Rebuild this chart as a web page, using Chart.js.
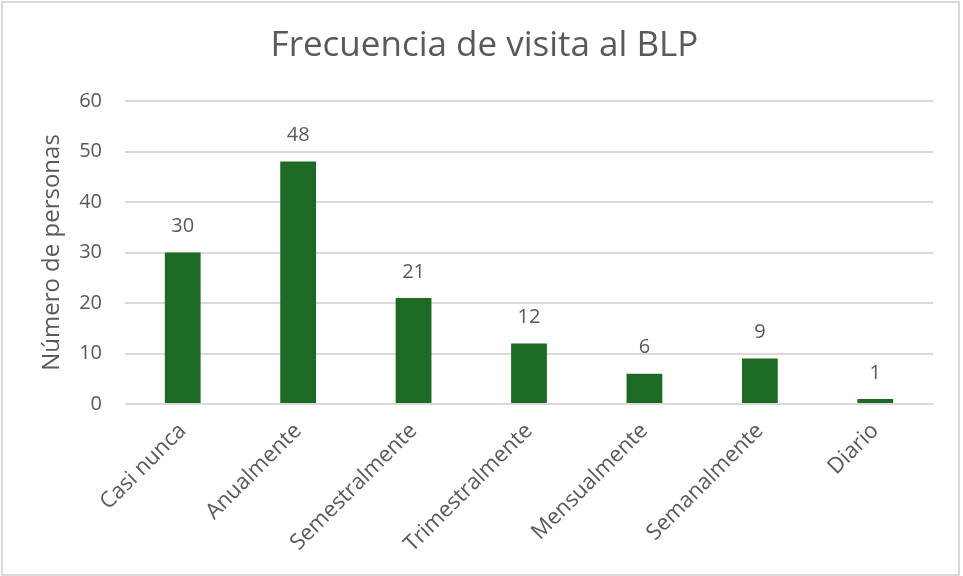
<!DOCTYPE html>
<html lang="es">
<head>
<meta charset="utf-8">
<title>Frecuencia de visita al BLP</title>
<script src="https://cdn.jsdelivr.net/npm/chart.js@4.4.0/dist/chart.umd.min.js"></script>
<style>
    html, body { margin: 0; padding: 0; background: #fff; }
    #wrap { width: 963px; height: 576px; position: relative; }
</style>
</head>
<body>
<div id="wrap"><canvas id="visitas" width="963" height="576"></canvas></div>
<script>
    "use strict";

    var categorias = ["Casi nunca", "Anualmente", "Semestralmente", "Trimestralmente", "Mensualmente", "Semanalmente", "Diario"];
    var personas = [30, 48, 21, 12, 6, 9, 1];
    var ticksY = [0, 10, 20, 30, 40, 50, 60];

    var textColor = '#595959';
    var gridColor = '#d9d9d9';
    var barColor = '#1d6a25';
    var fontFamily = "'Open Sans', 'Liberation Sans', sans-serif";

    // white background + thin grey frame around the whole chart
    var frame = {
        id: 'frame',
        beforeDraw: function (chart) {
            var ctx = chart.ctx;
            ctx.save();
            ctx.fillStyle = '#fff';
            ctx.fillRect(0, 0, chart.width, chart.height);
            ctx.strokeStyle = '#d9d9d9';
            ctx.lineWidth = 2;
            ctx.strokeRect(2, 2, chart.width - 6, chart.height - 3);
            ctx.restore();
        }
    };

    // value written above each bar
    var valueLabels = {
        id: 'valueLabels',
        afterDatasetsDraw: function (chart) {
            var ctx = chart.ctx;
            var meta = chart.getDatasetMeta(0);
            ctx.save();
            ctx.font = '20px ' + fontFamily;
            ctx.fillStyle = textColor;
            ctx.textAlign = 'center';
            ctx.textBaseline = 'middle';
            meta.data.forEach(function (bar, i) {
                ctx.fillText(String(personas[i]), bar.x, bar.y - 26);
            });
            ctx.restore();
        }
    };

    new Chart(document.getElementById('visitas').getContext('2d'), {
        type: 'bar',
        data: {
            labels: categorias,
            datasets: [{
                label: 'Número de personas',
                data: personas,
                backgroundColor: barColor,
                borderColor: barColor,
                borderWidth: 0,
                barPercentage: 0.31,
                categoryPercentage: 1
            }]
        },
        plugins: [frame, valueLabels],
        options: {
            responsive: false,
            animation: false,
            layout: {
                padding: { top: 0, left: 36, right: 30, bottom: 0 }
            },
            plugins: {
                legend: { display: false },
                tooltip: { enabled: false },
                title: {
                    display: true,
                    text: 'Frecuencia de visita al BLP',
                    color: textColor,
                    font: { family: fontFamily, size: 35, weight: 'normal' },
                    padding: { top: 25, bottom: 34 }
                }
            },
            scales: {
                y: {
                    min: 0,
                    max: 60,
                    afterBuildTicks: function (axis) {
                        axis.ticks = ticksY.map(function (v) { return { value: v }; });
                    },
                    afterFit: function (axis) {
                        axis.width = 89;
                    },
                    border: { display: false },
                    grid: {
                        color: gridColor,
                        lineWidth: 2,
                        drawTicks: false
                    },
                    ticks: {
                        color: textColor,
                        padding: 23,
                        font: { family: fontFamily, size: 20 }
                    },
                    title: {
                        display: true,
                        text: 'Número de personas',
                        color: textColor,
                        padding: { top: 2, bottom: 0 },
                        font: { family: fontFamily, size: 24 }
                    }
                },
                x: {
                    afterFit: function (axis) {
                        axis.height = 172;
                    },
                    border: { display: false },
                    grid: { display: false, drawTicks: false },
                    ticks: {
                        color: textColor,
                        padding: 14,
                        minRotation: 45,
                        maxRotation: 45,
                        autoSkip: false,
                        font: { family: fontFamily, size: 22 }
                    }
                }
            }
        }
    });
</script>
</body>
</html>
